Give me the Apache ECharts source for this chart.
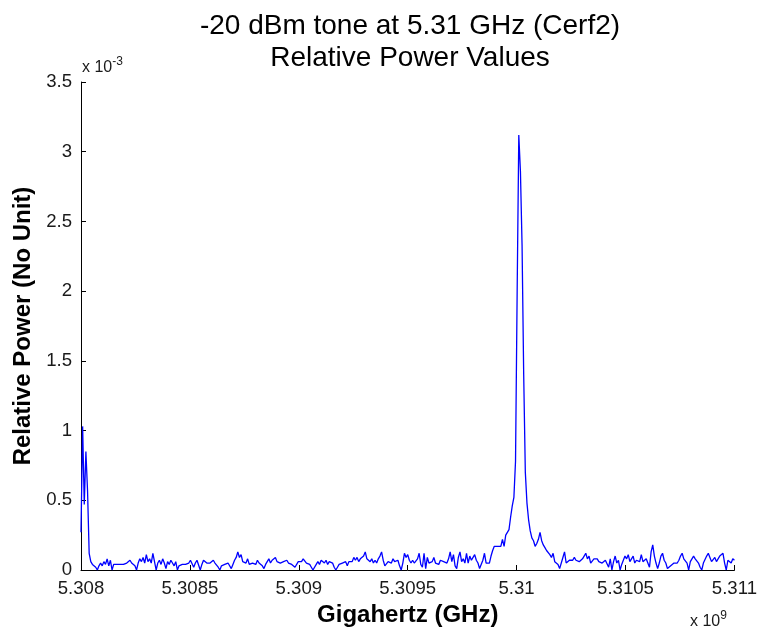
<!DOCTYPE html>
<html>
<head>
<meta charset="utf-8">
<script src="https://cdn.jsdelivr.net/npm/echarts@6/dist/echarts.min.js"></script>
<style>
html,body{margin:0;padding:0;background:#fff;}
#c{width:760px;height:633px;}
</style>
</head>
<body>
<div id="c"></div>
<script>
// Frequency grid (GHz): sampled from start with fixed step
var freqStartGHz = 5.308;
var freqStepGHz = 0.0000075;

// Relative power values, in units of 1e-3
var powerE3 = [
  0.27,1.03,0.47,0.85,0.57,0.12,0.06,0.04,0.05,0.02,0.00,0.03,0.05,0.03,0.06,0.04,0.08,0.03,0.07,0.00,
  0.04,0.04,0.04,0.04,0.04,0.04,0.04,0.04,0.05,0.06,0.07,0.05,0.06,0.03,0.00,0.05,0.08,0.06,0.09,0.05,
  0.11,0.06,0.08,0.05,0.12,0.06,0.00,0.05,0.07,0.04,0.08,0.05,0.01,0.06,0.04,0.07,0.05,0.03,0.06,0.00,
  0.03,0.04,0.04,0.03,0.04,0.04,0.05,0.07,0.06,0.02,0.05,0.07,0.06,0.00,0.04,0.07,0.06,0.05,0.04,0.05,
  0.06,0.07,0.05,0.06,0.02,0.00,0.03,0.04,0.04,0.03,0.05,0.04,0.01,0.04,0.07,0.09,0.13,0.09,0.11,0.06,
  0.07,0.05,0.08,0.04,0.05,0.05,0.06,0.04,0.07,0.05,0.06,0.03,0.01,0.04,0.06,0.08,0.05,0.07,0.06,0.09,
  0.06,0.07,0.05,0.06,0.06,0.05,0.07,0.05,0.06,0.04,0.05,0.02,0.03,0.06,0.07,0.06,0.08,0.07,0.05,0.06,
  0.04,0.02,0.00,0.01,0.04,0.06,0.04,0.07,0.08,0.05,0.07,0.04,0.06,0.07,0.05,0.02,0.00,0.02,0.04,0.05,
  0.05,0.04,0.06,0.03,0.06,0.07,0.06,0.09,0.07,0.09,0.06,0.08,0.07,0.10,0.13,0.08,0.09,0.06,0.08,0.05,
  0.07,0.05,0.08,0.10,0.13,0.07,0.03,0.02,0.06,0.07,0.05,0.08,0.06,0.05,0.07,0.03,0.00,0.05,0.12,0.09,
  0.11,0.07,0.05,0.07,0.05,0.06,0.08,0.12,0.04,0.02,0.12,0.01,0.09,0.05,0.04,0.06,0.09,0.05,0.06,0.04,
  0.07,0.08,0.06,0.07,0.05,0.08,0.13,0.06,0.11,0.03,0.01,0.09,0.13,0.06,0.08,0.05,0.12,0.05,0.10,0.07,
  0.09,0.11,0.07,0.05,0.01,0.00,0.07,0.12,0.05,0.04,0.05,0.10,0.14,0.17,0.18,0.17,0.16,0.17,0.22,0.17,
  0.25,0.24,0.29,0.38,0.46,0.52,0.78,2.00,3.12,2.86,2.33,1.40,0.70,0.48,0.36,0.28,0.23,0.21,0.17,0.19,
  0.22,0.27,0.21,0.18,0.16,0.14,0.13,0.11,0.09,0.12,0.06,0.05,0.04,0.01,0.02,0.09,0.13,0.05,0.06,0.07,
  0.08,0.07,0.09,0.07,0.08,0.06,0.06,0.08,0.10,0.12,0.08,0.10,0.05,0.06,0.08,0.07,0.08,0.06,0.06,0.05,
  0.05,0.07,0.06,0.02,0.08,0.00,0.06,0.10,0.05,0.07,0.00,0.04,0.07,0.10,0.08,0.11,0.06,0.08,0.10,0.05,
  0.07,0.08,0.06,0.11,0.06,0.07,0.08,0.05,0.02,0.13,0.18,0.10,0.05,0.01,0.05,0.10,0.12,0.07,0.05,0.01,
  0.00,0.03,0.04,0.05,0.05,0.05,0.07,0.10,0.12,0.08,0.08,0.05,0.00,0.06,0.07,0.10,0.08,0.07,0.05,0.02,
  0.00,0.05,0.06,0.10,0.12,0.09,0.06,0.05,0.09,0.06,0.07,0.10,0.11,0.12,0.05,0.00,0.07,0.06,0.05,0.08,
  0.07
];

var titleLines = ['-20 dBm tone at 5.31 GHz (Cerf2)', 'Relative Power Values'];
var xAxisTitle = 'Gigahertz (GHz)';
var yAxisTitle = 'Relative Power (No Unit)';
var xRange = [5.308, 5.311, 0.0005];
var yRange = [0, 3.5, 0.5];

var seriesData = powerE3.map(function (v, i) {
  return [freqStartGHz + i * freqStepGHz, v];
});

var FONT = '"Liberation Sans", Arial, Helvetica, sans-serif';
var TICK = '#1a1a1a';
var chart = echarts.init(document.getElementById('c'), null, {renderer: 'canvas'});
chart.setOption({
  backgroundColor: '#ffffff',
  animation: false,
  title: {
    text: titleLines.join('\n'),
    left: 405, top: 5, textAlign: 'center',
    textStyle: {fontFamily: FONT, fontSize: 28, fontWeight: 'normal', color: '#000', lineHeight: 32}
  },
  grid: {left: 81, right: 24, top: 82, bottom: 63, containLabel: false},
  xAxis: {
    type: 'value', min: xRange[0], max: xRange[1], interval: xRange[2],
    name: xAxisTitle, nameLocation: 'middle', nameGap: 30,
    nameTextStyle: {fontFamily: FONT, fontSize: 24, fontWeight: 'bold', color: '#000'},
    axisLine: {lineStyle: {color: '#000', width: 1}},
    axisTick: {inside: true, length: 5, lineStyle: {color: '#000'}},
    splitLine: {show: false},
    axisLabel: {
      fontFamily: FONT, fontSize: 18.6, color: TICK, margin: 9,
      showMinLabel: true, showMaxLabel: true,
      formatter: function (v) { return String(parseFloat(v.toFixed(4))); }
    }
  },
  yAxis: {
    type: 'value', min: yRange[0], max: yRange[1], interval: yRange[2],
    name: yAxisTitle, nameLocation: 'middle', nameGap: 44, nameRotate: 90,
    nameTextStyle: {fontFamily: FONT, fontSize: 24, fontWeight: 'bold', color: '#000'},
    axisLine: {show: true, lineStyle: {color: '#000', width: 1}},
    axisTick: {show: true, inside: true, length: 5, lineStyle: {color: '#000'}},
    splitLine: {show: false},
    axisLabel: {
      fontFamily: FONT, fontSize: 18.6, color: TICK, margin: 9,
      formatter: function (v) { return String(parseFloat(v.toFixed(2))); }
    }
  },
  graphic: [
    {type: 'text', left: 82, top: 56, style: {
      text: '{b|x 10}{s|-3}', fontFamily: FONT,
      rich: {b: {fontSize: 16, fontFamily: FONT, fill: TICK, verticalAlign: 'bottom', lineHeight: 20},
             s: {fontSize: 12, fontFamily: FONT, fill: TICK, verticalAlign: 'top', lineHeight: 20, padding: [0,0,10,0]}}
    }},
    {type: 'text', left: 690, top: 610, style: {
      text: '{b|x 10}{s|9}', fontFamily: FONT,
      rich: {b: {fontSize: 16, fontFamily: FONT, fill: TICK, verticalAlign: 'bottom', lineHeight: 20},
             s: {fontSize: 12, fontFamily: FONT, fill: TICK, verticalAlign: 'top', lineHeight: 20, padding: [0,0,10,0]}}
    }}
  ],
  series: [{
    type: 'line', data: seriesData, showSymbol: false, symbol: 'none',
    lineStyle: {color: '#0000ff', width: 1.3}, smooth: false, clip: true
  }]
});
</script>
</body>
</html>
